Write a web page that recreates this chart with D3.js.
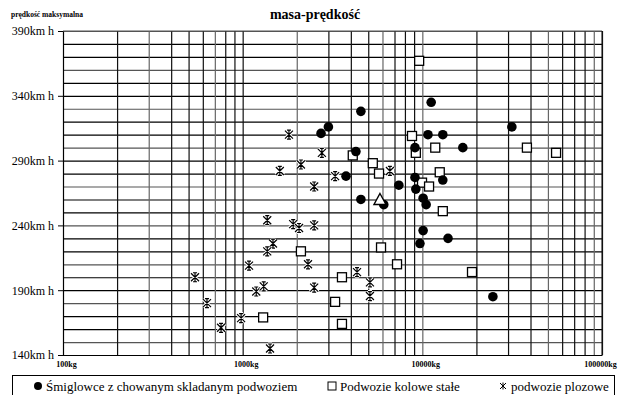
<!DOCTYPE html>
<html>
<head>
<meta charset="utf-8">
<script src="https://cdn.jsdelivr.net/npm/d3@7/dist/d3.min.js"></script>
<style>
  html, body { margin: 0; padding: 0; background: #fff; }
  svg { display: block; font-family: "Liberation Serif", "DejaVu Serif", serif; }
  svg text { font-family: "Liberation Serif", "DejaVu Serif", serif; }
</style>
</head>
<body>
<div id="chart"></div>
<script>
// masa [kg] i prędkość maksymalna [km/h]
const chowaneMasa = [11200, 4550, 3000, 2730, 10750, 13000, 31500, 9100, 16800, 4270, 3760, 9100,
  13000, 7400, 9200, 10100, 10500, 4550, 6100, 10100, 13900, 9700, 24700];
const chowanePredkosc = [335, 328, 316, 311, 310, 310, 316, 300, 300, 297, 278, 277,
  275, 271, 268, 261, 256, 260, 256, 236, 230, 226, 185];

const koloweMasa = [9600, 8760, 11800, 4100, 9200, 38200, 55500, 5300, 5740, 12500, 9960, 10900,
  13000, 5890, 7230, 3570, 18900, 3270, 3570, 2110, 1300];
const kolowePredkosc = [367, 309, 300, 294, 296, 300, 296, 288, 280, 281, 273, 270,
  251, 223, 210, 200, 204, 181, 164, 220, 169];

const plozoweMasa = [1810, 2760, 2110, 1610, 2500, 1370, 1910, 2060, 2500, 1475, 1370, 1085, 2310,
  543, 1190, 1310, 2500, 633, 980, 758, 1420, 6600, 3270, 4330, 5110, 5110];
const plozowePredkosc = [310, 296, 287, 282, 270, 244, 241, 238, 240, 226, 220, 209, 210,
  200, 189, 193, 192, 180, 168.5, 161, 145, 282, 278, 204, 196, 185.5];

const innyMasa = [5810];
const innyPredkosc = [260];

const yTicks = [140, 190, 240, 290, 340, 390];
const xTicks = [100, 1000, 10000, 100000];
const legendLabels = ['Śmiglowce z chowanym skladanym podwoziem', 'Podwozie kolowe stałe', 'podwozie plozowe'];

const W = 618, H = 395;
const margin = { top: 31, right: 16, bottom: 40, left: 63 };
const width = W - margin.left - margin.right;
const height = H - margin.top - margin.bottom;

const svg = d3.select('#chart').append('svg')
  .attr('width', W)
  .attr('height', H);

const g = svg.append('g')
  .attr('transform', `translate(${margin.left},${margin.top})`);

const x = d3.scaleLog().domain([100, 100000]).range([0, width]);
const y = d3.scaleLinear().domain([140, 390]).range([height, 0]);

// siatka pozioma co 10 km/h
const hGrid = d3.range(140, 391, 10);
g.append('g')
  .call(d3.axisLeft(y).tickValues(hGrid).tickSize(-width).tickFormat(''))
  .call(s => s.select('.domain').remove())
  .selectAll('line')
  .attr('stroke', (d, i) => (i % 3 === 1 ? '#555' : '#000'))
  .attr('stroke-width', 1.2);

// siatka pionowa 1..9 w każdej dekadzie
const vGrid = [];
[100, 1000, 10000].forEach(b => d3.range(1, 10).forEach(k => vGrid.push(b * k)));
vGrid.push(100000);
g.append('g')
  .call(d3.axisBottom(x).tickValues(vGrid).tickSize(height).tickFormat(''))
  .call(s => s.select('.domain').remove())
  .selectAll('line')
  .attr('stroke', (d, i) => (i % 4 === 2 ? '#666' : '#111'))
  .attr('stroke-width', 1.2);

// oś Y z opisami
const yAxis = g.append('g')
  .attr('font-family', '"Liberation Serif", serif')
  .call(d3.axisLeft(y).tickValues(yTicks).tickSize(5).tickPadding(4).tickFormat(d => d + 'km h'));
yAxis.attr('font-family', '"Liberation Serif", serif').attr('font-size', 12);
yAxis.select('.domain').attr('stroke', '#000');
yAxis.selectAll('line').attr('stroke', '#000');
yAxis.selectAll('text').attr('fill', '#000');

// oś X (dolna linia i opisy)
const xAxis = g.append('g')
  .attr('transform', `translate(0,${height})`)
  .call(d3.axisBottom(x).tickValues(xTicks).tickSize(0).tickPadding(6).tickFormat(d => d + 'kg'));
xAxis.attr('font-family', '"Liberation Serif", serif').attr('font-size', 8).attr('font-weight', 'bold');
xAxis.select('.domain').attr('stroke', '#000');
xAxis.selectAll('text')
  .attr('fill', '#000')
  .attr('dx', (d, i) => (i === xTicks.length - 1 ? -2 : 3));

// ramka: górna i prawa
g.append('line').attr('x1', 0).attr('x2', width).attr('y1', 0).attr('y2', 0).attr('stroke', '#555');
g.append('line').attr('x1', width).attr('x2', width).attr('y1', 0).attr('y2', height).attr('stroke', '#111');

// znaczniki
const asteriskPath = 'M-4,-4L4,4M-4,4L4,-4M0,-4.5L0,4.5M-2,-4.5L2,-4.5M-2,4.5L2,4.5';

function drawAsterisk(sel) {
  sel.append('path').attr('d', asteriskPath).attr('stroke', '#fff').attr('stroke-width', 3.2);
  sel.append('path').attr('d', asteriskPath).attr('stroke', '#000').attr('stroke-width', 1.2);
}

g.selectAll('.plozowe')
  .data(plozoweMasa)
  .enter()
  .append('g')
  .attr('class', 'plozowe')
  .attr('transform', (d, i) => `translate(${x(d)},${y(plozowePredkosc[i])})`)
  .call(drawAsterisk);

g.selectAll('.kolowe')
  .data(koloweMasa)
  .enter()
  .append('rect')
  .attr('class', 'kolowe')
  .attr('x', d => x(d) - 4.5)
  .attr('y', (d, i) => y(kolowePredkosc[i]) - 4.5)
  .attr('width', 9)
  .attr('height', 9)
  .attr('fill', '#fff')
  .attr('stroke', '#000')
  .attr('stroke-width', 1.3);

g.selectAll('.chowane')
  .data(chowaneMasa)
  .enter()
  .append('circle')
  .attr('class', 'chowane')
  .attr('cx', d => x(d))
  .attr('cy', (d, i) => y(chowanePredkosc[i]))
  .attr('r', 4.8)
  .attr('fill', '#000');

g.selectAll('.inny')
  .data(innyMasa)
  .enter()
  .append('path')
  .attr('class', 'inny')
  .attr('transform', (d, i) => `translate(${x(d)},${y(innyPredkosc[i])})`)
  .attr('d', 'M0,-6L6,5L-6,5Z')
  .attr('fill', '#fff')
  .attr('stroke', '#000')
  .attr('stroke-width', 1.4);

// tytuł i opis osi
svg.append('text')
  .attr('x', 315)
  .attr('y', 19)
  .attr('text-anchor', 'middle')
  .style('font-weight', 'bold')
  .style('font-size', '14px')
  .text('masa-prędkość');

svg.append('text')
  .attr('x', 11)
  .attr('y', 17)
  .style('font-weight', 'bold')
  .style('font-size', '7.5px')
  .text('prędkość maksymalna');

// legenda
svg.append('rect')
  .attr('x', 12.5)
  .attr('y', 375.5)
  .attr('width', 602)
  .attr('height', 30)
  .attr('fill', '#fff')
  .attr('stroke', '#000');

const legendX = [38, 332, 503];
const legend = svg.selectAll('.legend')
  .data(legendLabels)
  .enter()
  .append('g')
  .attr('class', 'legend')
  .attr('transform', (d, i) => `translate(${legendX[i]},386)`);

legend.each(function(d, i) {
  const s = d3.select(this);
  if (i === 0) s.append('circle').attr('r', 4).attr('fill', '#000');
  if (i === 1) s.append('rect').attr('x', -4).attr('y', -4).attr('width', 8).attr('height', 8)
    .attr('fill', '#fff').attr('stroke', '#000');
  if (i === 2) s.append('path').attr('d', 'M-3,-3L3,3M-3,3L3,-3M0,-3.5L0,3.5').attr('stroke', '#000');
});

legend.append('text')
  .attr('x', 8)
  .attr('y', 4.5)
  .style('font-size', '13px')
  .text(d => d);
</script>
</body>
</html>
